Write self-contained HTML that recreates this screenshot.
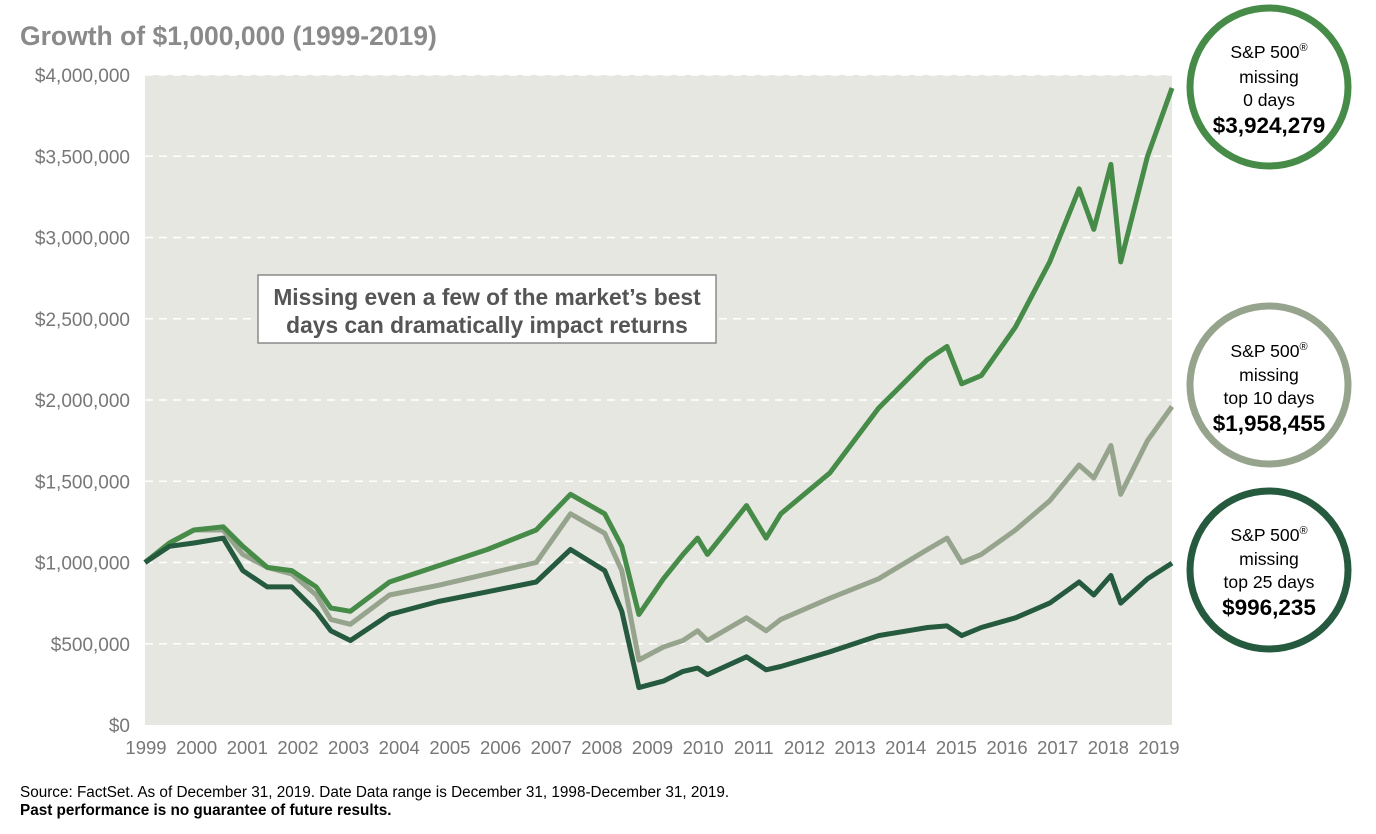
<!DOCTYPE html>
<html><head><meta charset="utf-8"><style>
body{margin:0;background:#fff;width:1376px;height:829px;overflow:hidden;font-family:"Liberation Sans",Arial,sans-serif}
</style></head><body>
<svg id="chart" width="1376" height="829" xmlns="http://www.w3.org/2000/svg" font-family="Liberation Sans, Arial, sans-serif">
<text x="20" y="45" font-size="26.5" font-weight="bold" fill="#8a8a8a">Growth of $1,000,000 (1999-2019)</text>
<rect x="145" y="75" width="1027" height="650" fill="#e7e7e2"/>
<g id="grid"></g><g id="ylabels"></g><g id="xlabels"></g><g id="lines"></g>
<rect x="258" y="275" width="458" height="68" fill="#fff" stroke="#8a8a8a" stroke-width="1.5"/>
<text font-size="22.8" font-weight="bold" fill="#555" text-anchor="middle"><tspan x="487" y="305">Missing even a few of the market’s best</tspan><tspan x="487" y="333">days can dramatically impact returns</tspan></text>
<g>
<circle cx="1269" cy="87" r="79" fill="#fff" stroke="#468c48" stroke-width="7"/>
<text text-anchor="middle" fill="#000"><tspan x="1269" y="58" font-size="17.6">S&amp;P 500<tspan font-size="11" dy="-7">®</tspan></tspan><tspan x="1269" y="83" font-size="17.6">missing</tspan><tspan x="1269" y="106" font-size="17.6">0 days</tspan><tspan x="1269" y="133" font-size="22.5" font-weight="bold">$3,924,279</tspan></text>
</g>
<g>
<circle cx="1269" cy="385" r="79" fill="#fff" stroke="#97a48d" stroke-width="7"/>
<text text-anchor="middle" fill="#000"><tspan x="1269" y="357" font-size="17.6">S&amp;P 500<tspan font-size="11" dy="-7">®</tspan></tspan><tspan x="1269" y="381" font-size="17.6">missing</tspan><tspan x="1269" y="404" font-size="17.6">top 10 days</tspan><tspan x="1269" y="431" font-size="22.5" font-weight="bold">$1,958,455</tspan></text>
</g>
<g>
<circle cx="1269" cy="570" r="79" fill="#fff" stroke="#255a3e" stroke-width="7"/>
<text text-anchor="middle" fill="#000"><tspan x="1269" y="541" font-size="17.6">S&amp;P 500<tspan font-size="11" dy="-7">®</tspan></tspan><tspan x="1269" y="565" font-size="17.6">missing</tspan><tspan x="1269" y="588" font-size="17.6">top 25 days</tspan><tspan x="1269" y="615" font-size="22.5" font-weight="bold">$996,235</tspan></text>
</g>
<text x="20" y="797" font-size="15.3" fill="#000">Source: FactSet. As of December 31, 2019. Date Data range is December 31, 1998-December 31, 2019.</text>
<text x="20" y="815" font-size="15.3" font-weight="bold" fill="#000">Past performance is no guarantee of future results.</text>
</svg>
<script>
const times=[1999,1999.5,2000,2000.6,2001,2001.5,2002,2002.5,2002.8,2003.2,2004,2005,2006,2007,2007.7,2008.4,2008.75,2009.1,2009.6,2010,2010.3,2010.5,2011.3,2011.7,2012,2013,2014,2015,2015.4,2015.7,2016.1,2016.8,2017.5,2018.1,2018.4,2018.75,2018.95,2019.5,2020];
const green=[1.0,1.12,1.2,1.22,1.1,0.97,0.95,0.85,0.72,0.7,0.88,0.98,1.08,1.2,1.42,1.3,1.1,0.68,0.9,1.05,1.15,1.05,1.35,1.15,1.3,1.55,1.95,2.25,2.33,2.1,2.15,2.45,2.85,3.3,3.05,3.45,2.85,3.5,3.92];
const light=[1.0,1.12,1.2,1.2,1.05,0.97,0.93,0.8,0.65,0.62,0.8,0.86,0.93,1.0,1.3,1.18,0.95,0.40,0.48,0.52,0.58,0.52,0.66,0.58,0.65,0.78,0.9,1.08,1.15,1.0,1.05,1.2,1.38,1.6,1.52,1.72,1.42,1.75,1.96];
const dark=[1.0,1.1,1.12,1.15,0.95,0.85,0.85,0.7,0.58,0.52,0.68,0.76,0.82,0.88,1.08,0.95,0.7,0.23,0.27,0.33,0.35,0.31,0.42,0.34,0.36,0.45,0.55,0.6,0.61,0.55,0.6,0.66,0.75,0.88,0.8,0.92,0.75,0.9,0.996];
const yTicks=[0,0.5,1,1.5,2,2.5,3,3.5,4];
const yTickLabels=["$0","$500,000","$1,000,000","$1,500,000","$2,000,000","$2,500,000","$3,000,000","$3,500,000","$4,000,000"];
const xLabels=["1999","2000","2001","2002","2003","2004","2005","2006","2007","2008","2009","2010","2011","2012","2013","2014","2015","2016","2017","2018","2019"];
const NS="http://www.w3.org/2000/svg";
const xS=t=>145+(t-1999)/21*1027;
const yS=v=>725-v/4*650;
const g=document.getElementById('grid'),yl=document.getElementById('ylabels'),xl=document.getElementById('xlabels'),ln=document.getElementById('lines');
yTicks.forEach((v,i)=>{
 if(v>0){const l=document.createElementNS(NS,'line');
 
 
 l.setAttribute('x1',145);l.setAttribute('x2',1172);l.setAttribute('y1',yS(v));l.setAttribute('y2',yS(v));
 l.setAttribute('stroke','#fff');l.setAttribute('stroke-width','1.5');l.setAttribute('stroke-dasharray','8,6');g.appendChild(l);}
 const t=document.createElementNS(NS,'text');
 
 
 t.setAttribute('x',130);t.setAttribute('y',yS(v)+7);t.setAttribute('text-anchor','end');t.setAttribute('font-size','19');t.setAttribute('fill','#777');
 t.textContent=yTickLabels[i];yl.appendChild(t);
});
xLabels.forEach((s,i)=>{
 const t=document.createElementNS(NS,'text');
 
 
 t.setAttribute('x',146+i*50.65);t.setAttribute('y',754);t.setAttribute('text-anchor','middle');t.setAttribute('font-size','18.5');t.setAttribute('fill','#777');
 t.textContent=s;xl.appendChild(t);
});
[[light,'#97a48d','line-missing-10-days'],[green,'#468c48','line-missing-0-days'],[dark,'#255a3e','line-missing-25-days']].forEach(([d,c,n])=>{
 const p=document.createElementNS(NS,'polyline');
 
 
 p.setAttribute('points',d.map((v,i)=>xS(times[i]).toFixed(1)+','+yS(v).toFixed(1)).join(' '));
 p.setAttribute('fill','none');p.setAttribute('stroke',c);p.setAttribute('stroke-width','5');p.setAttribute('stroke-linejoin','round');
 ln.appendChild(p);
});
</script>
</body></html>
